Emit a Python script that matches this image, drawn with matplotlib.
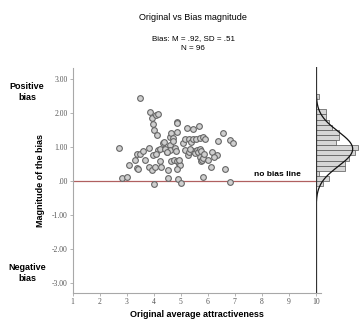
import numpy as np
from matplotlib import pyplot as plt

# scatter: original average attractiveness vs bias magnitude
orig = [2.72, 2.81, 3.02, 3.08, 3.30, 3.40, 3.38, 3.43, 3.49, 3.50,
        3.61, 3.68, 3.82, 3.84, 3.88, 3.92, 3.95, 3.97, 4.00, 4.02,
        4.04, 4.08, 4.15, 4.12, 4.17, 4.23, 4.25, 4.29, 4.33, 4.38,
        3.98, 4.10, 4.48, 4.54, 4.54, 4.60, 4.60, 4.60, 4.66, 4.66,
        4.72, 4.72, 4.75, 4.78, 4.82, 4.85, 4.86, 4.85, 4.88, 4.90,
        4.93, 4.97, 4.95, 4.85, 5.03, 5.09, 5.15, 5.15, 5.24, 5.27,
        5.30, 5.31, 5.38, 5.44, 5.46, 5.46, 5.52, 5.56, 5.60, 5.65,
        5.68, 5.71, 5.73, 5.72, 5.75, 5.77, 5.80, 5.81, 5.81, 5.83,
        5.89, 5.88, 6.01, 6.14, 6.16, 6.33, 6.38, 6.57, 6.63, 6.82,
        6.95, 6.82, 4.42, 4.50, 5.35, 6.22]
bias = [0.96, 0.07, 0.10, 0.47, 0.60, 0.78, 0.38, 0.36, 2.43, 0.78,
        0.89, 0.62, 0.40, 0.96, 2.04, 0.32, 1.85, 1.67, 1.50, -0.10,
        0.42, 1.95, 1.97, 1.34, 0.91, 0.57, 0.95, 0.42, 1.11, 1.13,
        0.76, 0.80, 0.86, 0.32, 0.08, 1.06, 0.91, 1.30, 1.40, 0.57,
        1.26, 1.16, 0.60, 0.97, 0.88, 1.74, 1.71, 1.45, 0.58, 0.05,
        0.50, 0.47, 0.62, 0.35, -0.06, 1.11, 0.91, 1.22, 1.55, 0.76,
        0.85, 1.22, 1.15, 1.52, 1.22, 0.88, 0.82, 1.22, 0.90, 0.85,
        1.60, 0.71, 1.25, 0.95, 0.88, 0.57, 0.62, 1.30, 0.10, 0.67,
        1.22, 0.80, 0.62, 0.42, 0.86, 0.76, 1.16, 1.42, 0.34, 1.21,
        1.11, -0.02, 0.93, 0.84, 0.95, 0.70]

# histogram of bias (bins of .15 from -.17)
hist_edges = [-0.17 + 0.15 * i for i in range(19)]
hist_counts = [2, 4, 1, 9, 9, 10, 12, 13, 6, 7, 7, 5, 4, 3, 3, 0, 0, 1]
mean_bias, sd_bias, n = 0.92, 0.51, 96

ytick_vals = [3, 2, 1, 0, -1, -2, -3]
ytick_labels = ["3.00", "2.00", "1.00", ".00", "-1.00", "-2.00", "-3.00"]
xtick_vals = list(range(1, 11))

W, H = 359, 322
fig = plt.figure(figsize=(W / 100, H / 100), dpi=100)
plt.rcParams['font.family'] = ['Liberation Sans', 'DejaVu Sans']

grey = "#a8a8a8"
ax = fig.add_axes([72.7 / W, (H - 293) / H, (321 - 72.7) / W, 225 / H])
ax.set_xlim(1, 10.2)
ax.set_ylim(-3.3, 3.32)
ax.scatter(orig, bias, s=17, facecolor="#cfcfcf", edgecolor="#666666",
           linewidth=0.8, zorder=3)
ax.hlines(0, 1, 10, color="#b06060", linewidth=0.9, zorder=2)
ax.text(9.45, 0.2, "no bias line", fontsize=6, fontweight="bold",
        ha="right", va="center")

for s in ["top", "right"]:
    ax.spines[s].set_visible(False)
for s in ["left", "bottom"]:
    ax.spines[s].set_color(grey)
    ax.spines[s].set_linewidth(0.8)
ax.set_yticks(ytick_vals)
ax.set_yticklabels(ytick_labels)
ax.set_xticks(xtick_vals)
ax.tick_params(length=2, width=0.6, color=grey, labelsize=5.5,
               labelcolor="#555555", pad=1.5)
for lab in ax.get_xticklabels() + ax.get_yticklabels():
    lab.set_fontfamily("Liberation Serif")

ax.set_xlabel("Original average attractiveness", fontsize=6.5,
              fontweight="bold", labelpad=3)
ax.set_ylabel("Magnitude of the bias", fontsize=6.5, fontweight="bold",
              labelpad=5)

# histogram panel on the right
axh = fig.add_axes([316 / W, (H - 293) / H, 43 / W, 226 / H], sharey=ax)
centers = [(a + b) / 2 for a, b in zip(hist_edges[:-1], hist_edges[1:])]
bw = hist_edges[1] - hist_edges[0]
axh.barh(centers, hist_counts, height=bw, color="#d6d6d6",
         edgecolor="#555555", linewidth=0.5)
yy = np.linspace(-3.3, 3.32, 300)
axh.plot(n * bw * np.exp(-0.5 * ((yy - mean_bias) / sd_bias) ** 2)
         / (sd_bias * np.sqrt(2 * np.pi)), yy, color="#111111", lw=0.9)
axh.set_xlim(0, 13.2)
axh.axis("off")
axh.axvline(0, color="#333333", lw=0.9)

fig.text(193 / W, 1 - 18 / H, "Original vs Bias magnitude", fontsize=6.5,
         ha="center", va="center")
fig.text(193 / W, 1 - 39 / H, "Bias: M = .92, SD = .51", fontsize=5.8,
         ha="center", va="center")
fig.text(193 / W, 1 - 48 / H, "N = 96", fontsize=5.8, ha="center",
         va="center")
fig.text(27 / W, 1 - 92 / H, "Positive\nbias", fontsize=6.5,
         fontweight="bold", ha="center", va="center", linespacing=1.3)
fig.text(27 / W, 1 - 273 / H, "Negative\nbias", fontsize=6.5,
         fontweight="bold", ha="center", va="center", linespacing=1.3)

fig.savefig("out.png", dpi=100)
